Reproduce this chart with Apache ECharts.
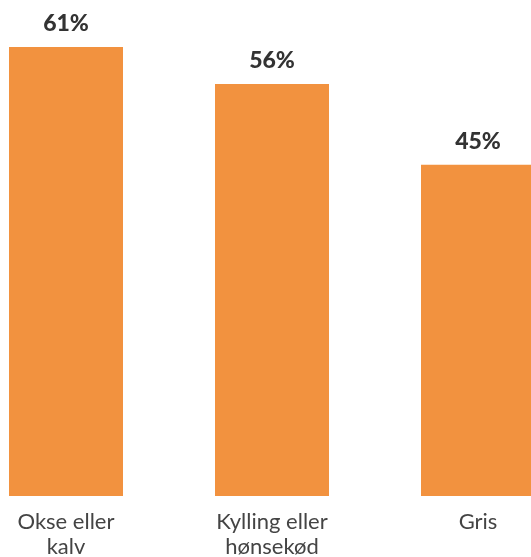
<!DOCTYPE html>
<html>
<head>
<meta charset="utf-8">
<script src="https://cdn.jsdelivr.net/npm/echarts@6/dist/echarts.min.js"></script>
<style>
  html, body { margin: 0; padding: 0; background: #fff; }
  #chart { width: 531px; height: 557px; }
</style>
</head>
<body>
<div id="chart"></div>
<script>
// Meat types and share of respondents (%)
const categories = ['Okse eller\nkalv', 'Kylling eller\nhønsekød', 'Gris'];
const shares = [61, 56, 45];

const chart = echarts.init(document.getElementById('chart'), null, { renderer: 'canvas' });

chart.setOption({
  animation: false,
  grid: {
    left: -37, right: -50, top: 0, bottom: 61,
    containLabel: false,
    outerBoundsMode: 'none'
  },
  xAxis: {
    type: 'category',
    data: categories,
    axisLine: { show: false },
    axisTick: { show: false },
    axisLabel: {
      margin: 13,
      color: '#444',
      fontFamily: 'Lato',
      fontSize: 22,
      lineHeight: 25
    }
  },
  yAxis: {
    type: 'value',
    min: 0,
    max: 67.4,
    show: false,
    splitLine: { show: false }
  },
  series: [{
    type: 'bar',
    data: shares,
    barWidth: 114,
    itemStyle: { color: '#F2923F' },
    label: {
      show: true,
      position: 'top',
      distance: 12,
      formatter: '{c}%',
      color: '#333',
      fontFamily: 'Lato',
      fontWeight: 900,
      fontSize: 23
    }
  }]
});
</script>
</body>
</html>
